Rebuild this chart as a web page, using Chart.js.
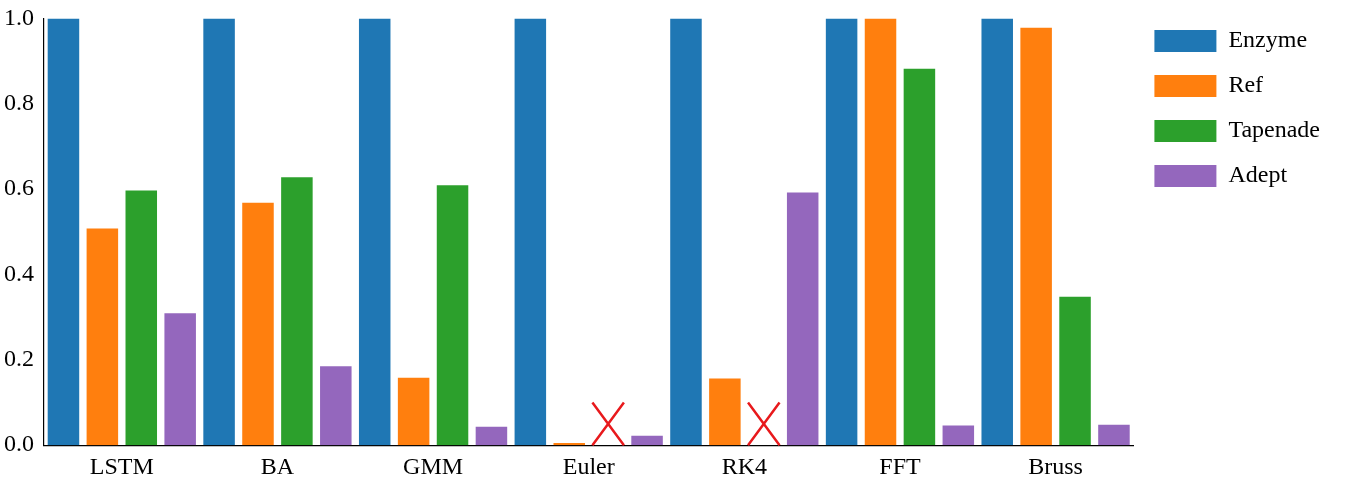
<!DOCTYPE html>
<html><head><script src="https://cdn.jsdelivr.net/npm/chart.js@4"></script>
<style>body{margin:0;background:#fff}#w{width:1350px;height:484px}</style></head>
<body><div id="w"><canvas id="c"></canvas></div>
<script>
const categories=["LSTM","BA","GMM","Euler","RK4","FFT","Bruss"];
const enzyme=[1,1,1,1,1,1,1];
const ref=[0.508,0.568,0.158,0.005,0.156,1.0,0.978];
const tapenade=[0.597,0.628,0.609,null,null,0.882,0.348];
const adept=[0.309,0.185,0.043,0.022,0.592,0.046,0.048];
const yTicks=[0,0.2,0.4,0.6,0.8,1.0];
const font={family:"Liberation Serif",size:24};
const xMark={id:"xMark",afterDatasetsDraw(chart){
  const meta=chart.getDatasetMeta(2),ys=chart.scales.y,ctx=chart.ctx;
  tapenade.forEach((v,i)=>{if(v!==null)return;
    const el=meta.data[i],w=el.width/2,y0=ys.getPixelForValue(0),y1=ys.getPixelForValue(0.1);
    ctx.save();ctx.strokeStyle="#e8191c";ctx.lineWidth=2.5;ctx.beginPath();
    ctx.moveTo(el.x-w,y1);ctx.lineTo(el.x+w,y0);ctx.moveTo(el.x+w,y1);ctx.lineTo(el.x-w,y0);ctx.stroke();ctx.restore();});
}};
new Chart(document.getElementById("c"),{type:"bar",
data:{labels:categories,datasets:[
{label:"Enzyme",data:enzyme,backgroundColor:"#1f77b4"},
{label:"Ref",data:ref,backgroundColor:"#ff7f0e"},
{label:"Tapenade",data:tapenade,backgroundColor:"#2ca02c"},
{label:"Adept",data:adept,backgroundColor:"#9467bd"}]},
options:{responsive:true,maintainAspectRatio:false,animation:false,
datasets:{bar:{barPercentage:0.81,categoryPercentage:1}},
layout:{padding:{top:8,right:20,left:0}},
plugins:{tooltip:{enabled:false},legend:{position:"right",align:"start",
 labels:{boxWidth:62,boxHeight:22,padding:21,color:"#000",font:font}}},
scales:{x:{grid:{display:false,drawTicks:true,tickLength:6,tickColor:"#000"},border:{color:"#000",width:1.2},
 ticks:{color:"#000",font:font,padding:2}},
 y:{min:0,max:1,afterBuildTicks(s){s.ticks=yTicks.map(v=>({value:v}));},
 grid:{display:false,drawTicks:true,tickLength:6,tickColor:"#000"},border:{color:"#000",width:1.2},
 ticks:{color:"#000",font:font,padding:4,callback:v=>Number(v).toFixed(1)}}}},
plugins:[xMark]});
</script></body></html>
